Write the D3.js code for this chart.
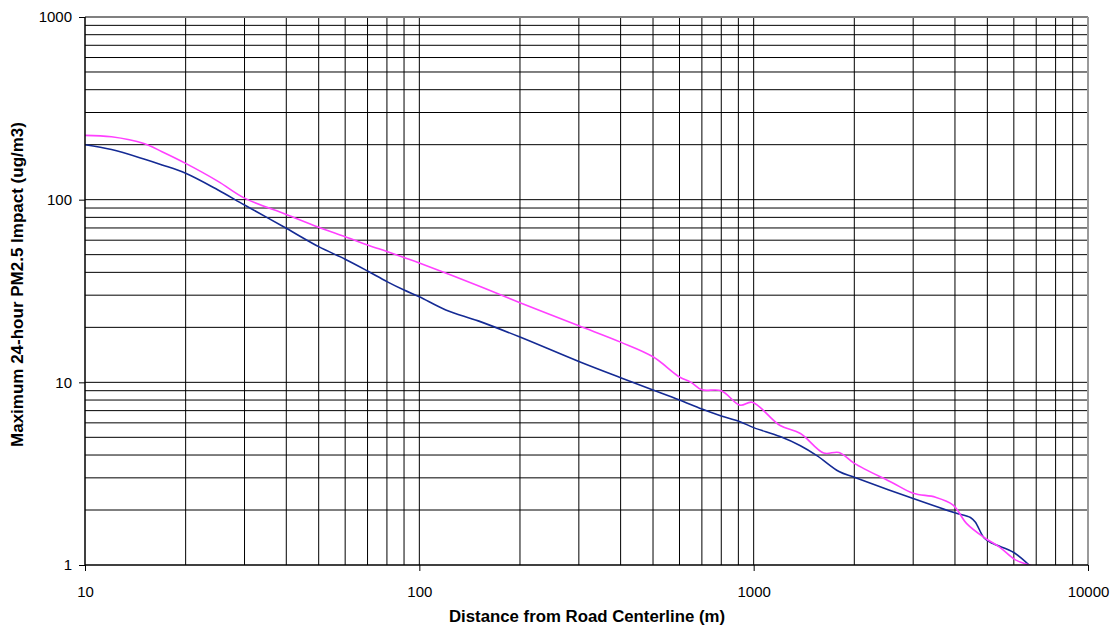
<!DOCTYPE html>
<html>
<head>
<meta charset="utf-8">
<script src="https://cdn.jsdelivr.net/npm/d3@7"></script>
<style>
  html, body { margin: 0; padding: 0; background: #fff; }
  svg { display: block; }
  text { font-family: Arial, "Liberation Sans", sans-serif; fill: #000; }
</style>
</head>
<body>
<svg id="chart" width="1115" height="627"></svg>
<script>
// ---- Data ----
const pinkX = [10, 12, 15, 17, 20, 25, 30, 40, 50, 60, 70, 80, 90, 100, 150, 200, 300, 400, 500, 600, 650, 700, 800, 910, 990, 1200, 1380, 1620, 1800, 2000, 2600, 3000, 3500, 3950, 4330, 4900, 5450, 6050, 6800];
const pinkY = [225, 221, 203, 183, 158, 126, 102, 83, 70.6, 62.7, 56.5, 52, 48.2, 45, 33.8, 27.3, 20.4, 16.6, 13.8, 10.7, 10.0, 9.1, 9.0, 7.5, 7.78, 5.8, 5.25, 4.1, 4.13, 3.6, 2.82, 2.47, 2.35, 2.13, 1.69, 1.41, 1.25, 1.07, 0.99];

const blueX = [10, 12, 15, 17, 20, 25, 30, 40, 50, 60, 70, 80, 90, 100, 120, 150, 200, 300, 400, 500, 600, 700, 800, 910, 1000, 1200, 1380, 1550, 1800, 2000, 3000, 4000, 4450, 4600, 4900, 5200, 6000, 6700];
const blueY = [200, 188, 167, 155, 139.5, 113, 93.5, 69.7, 55.3, 47.2, 40.7, 35.6, 32, 29.4, 24.9, 21.7, 17.7, 13.0, 10.6, 9.09, 8.01, 7.15, 6.55, 6.09, 5.65, 5.05, 4.5, 3.96, 3.25, 3.02, 2.31, 1.93, 1.82, 1.72, 1.4, 1.31, 1.17, 0.99];

const xTickLabels = ["10", "100", "1000", "10000"];
const yTickLabels = ["1", "10", "100", "1000"];
const xTitle = "Distance from Road Centerline (m)";
const yTitle = "Maximum 24-hour PM2.5 Impact (ug/m3)";

// ---- Layout ----
const W = 1115, H = 627;
const pL = 85, pR = 1088, pT = 17, pB = 565;

const svg = d3.select("#chart");
const x = d3.scaleLog().domain([10, 10000]).range([pL, pR]);
const y = d3.scaleLog().domain([1, 1000]).range([pB, pT]);

// minor + major grid values
const xGrid = [], yGrid = [];
for (let d = 10; d < 10000; d *= 10) for (let m = 1; m <= 9; m++) xGrid.push(d * m);
for (let d = 1; d < 1000; d *= 10) for (let m = 1; m <= 9; m++) yGrid.push(d * m);

const grid = svg.append("g");
grid.selectAll("line.vx").data(xGrid.filter(v => v > 10 && v < 10000)).join("line")
  .attr("x1", d => x(d)).attr("x2", d => x(d))
  .attr("y1", pT).attr("y2", pB)
  .attr("stroke", "#000").attr("stroke-width", 1);
grid.selectAll("line.hy").data(yGrid.filter(v => v > 1 && v < 1000)).join("line")
  .attr("y1", d => y(d)).attr("y2", d => y(d))
  .attr("x1", pL).attr("x2", pR)
  .attr("stroke", "#000").attr("stroke-width", 1);

// plot border (top/right gray)
svg.append("line").attr("x1", pL).attr("x2", pR).attr("y1", pT).attr("y2", pT)
  .attr("stroke", "#808080").attr("stroke-width", 2);
svg.append("line").attr("x1", pR).attr("x2", pR).attr("y1", pT).attr("y2", pB)
  .attr("stroke", "#9a9a9a").attr("stroke-width", 2);

// clip for curves
svg.append("clipPath").attr("id", "clip").append("rect")
  .attr("x", pL).attr("y", pT).attr("width", pR - pL).attr("height", pB - pT);

const line = d3.line().x(d => x(d[0])).y(d => y(d[1])).curve(d3.curveCatmullRom.alpha(0.5));
const curves = svg.append("g").attr("clip-path", "url(#clip)");
curves.append("path").datum(d3.zip(blueX, blueY))
  .attr("d", line).attr("fill", "none").attr("stroke", "#142a94").attr("stroke-width", 1.6);
curves.append("path").datum(d3.zip(pinkX, pinkY))
  .attr("d", line).attr("fill", "none").attr("stroke", "#ff40ff").attr("stroke-width", 1.6);

// axes
const xAxis = d3.axisBottom(x).tickValues([10, 100, 1000, 10000])
  .tickFormat((d, i) => xTickLabels[i]).tickSize(6).tickPadding(15);
const gx = svg.append("g").attr("transform", `translate(0,${pB})`).call(xAxis);
gx.select(".domain").attr("stroke", "#000").attr("stroke-width", 1.5).attr("d", `M${pL},0H${pR}`);
gx.selectAll("text").attr("font-size", 15).attr("font-family", "Arial, 'Liberation Sans', sans-serif");

const yAxis = d3.axisLeft(y).tickValues([1, 10, 100, 1000])
  .tickFormat((d, i) => yTickLabels[i]).tickSize(6).tickPadding(7);
const gy = svg.append("g").attr("transform", `translate(${pL},0)`).call(yAxis);
gy.select(".domain").attr("stroke", "#000").attr("stroke-width", 1.5).attr("d", `M0,${pT}V${pB}`);
gy.selectAll("text").attr("font-size", 15).attr("font-family", "Arial, 'Liberation Sans', sans-serif");

// titles
svg.append("text").attr("x", 587).attr("y", 622)
  .attr("text-anchor", "middle").attr("font-weight", "bold").attr("font-size", 16.8)
  .text(xTitle);
svg.append("text").attr("transform", `translate(22.5,284.5) rotate(-90)`)
  .attr("text-anchor", "middle").attr("font-weight", "bold").attr("font-size", 17)
  .text(yTitle);
</script>
</body>
</html>
